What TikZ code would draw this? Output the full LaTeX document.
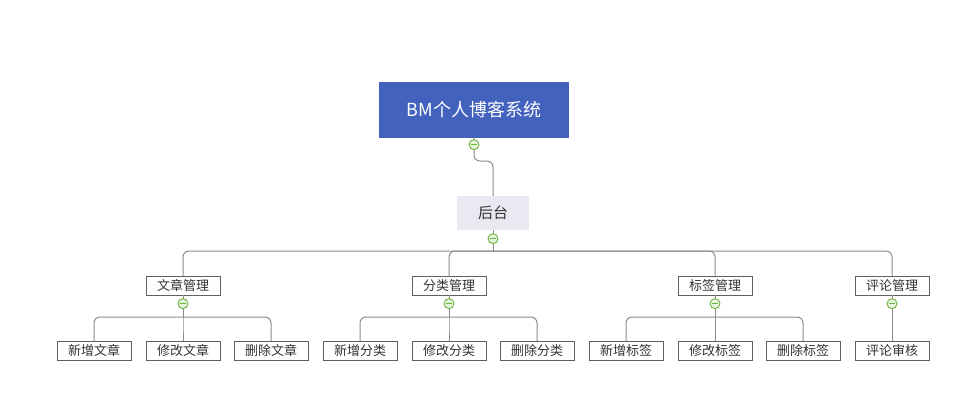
\documentclass[tikz,border=0pt]{standalone}
\usepackage{fontspec}
\setmainfont{Noto Sans CJK SC}
\usetikzlibrary{positioning}
\definecolor{rootblue}{HTML}{4262BE}
\definecolor{subfill}{HTML}{E9E9F2}
\definecolor{linegray}{HTML}{8C8C8C}
\definecolor{boxgray}{HTML}{606060}
\definecolor{togline}{HTML}{6DB33F}
\definecolor{togfill}{HTML}{E6F3DC}
\definecolor{txtgray}{HTML}{333333}

\tikzset{
  rootbox/.style={fill=rootblue, text=white, minimum width=190pt, minimum height=56pt,
    inner sep=0pt, font=\fontsize{18}{20}\selectfont},
  subbox/.style={fill=subfill, text=txtgray, minimum width=72pt, minimum height=34pt,
    inner sep=0pt, font=\fontsize{15}{17}\selectfont},
  leafbox/.style={draw=boxgray, fill=white, text=txtgray, minimum width=74pt,
    minimum height=19pt, inner sep=0pt, font=\fontsize{13}{15}\selectfont},
  conn/.style={draw=linegray, line width=1pt, rounded corners=6pt},
  toggle/.style={circle, draw=togline, fill=togfill, line width=0.9pt, minimum size=10pt,
    inner sep=0pt, path picture={\draw[togline, line width=1pt]
      ([xshift=-2.8pt]path picture bounding box.center) --
      ([xshift=2.8pt]path picture bounding box.center);}}
}

\begin{document}
\begin{tikzpicture}[x=1pt, y=-1pt]
\useasboundingbox (0,0) rectangle (963,412);

% top two levels
\node[rootbox] (root) at (474,110) {BM个人博客系统};
\node[subbox] (hou) at (493,213) {后台};

% modules
\foreach \i/\x/\lbl in {1/183/文章管理, 2/449/分类管理, 3/715/标签管理, 4/892/评论管理}
\node[leafbox] (m\i) at (\x,285.5) {\lbl};

% leaves
\foreach \i/\j/\x/\lbl in {1/1/94/新增文章, 1/2/183/修改文章, 1/3/271/删除文章,
  2/1/360/新增分类, 2/2/449/修改分类, 2/3/537/删除分类,
  3/1/626/新增标签, 3/2/715/修改标签, 3/3/803/删除标签, 4/1/892/评论审核}
\node[leafbox] (l\i\j) at (\x,350.5) {\lbl};

% connectors
\coordinate (mid0) at (493,161);
\draw[conn] (root.south) |- (mid0) -- (hou.north);

\coordinate (bus0) at (493,251);
\draw[conn] (hou.south) -- (bus0);
\foreach \i in {1,...,4}
\draw[conn] (bus0) -| (m\i.north);

\coordinate (bus2) at (0,317);
\foreach \i in {1,...,4}
\draw[conn] (m\i.south) -- (m\i.south |- bus2);
\foreach \i/\j in {1/1,1/2,1/3,2/1,2/2,2/3,3/1,3/2,3/3,4/1}
\draw[conn] (m\i.south |- bus2) -| (l\i\j.north);

% collapse buttons
\node[toggle, below=1pt of root] (tog0) {};
\node[toggle, below=3pt of hou] (tog1) {};
\foreach \i in {1,...,4}
\node[toggle, below=3pt of m\i] (tog2\i) {};
\end{tikzpicture}
\end{document}
